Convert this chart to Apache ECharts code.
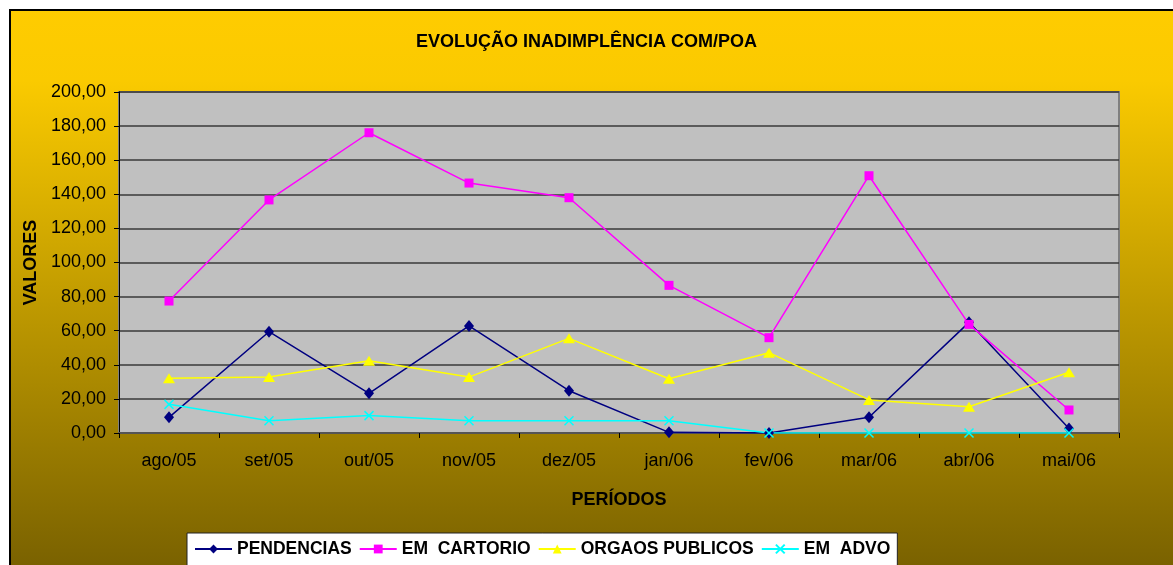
<!DOCTYPE html>
<html>
<head>
<meta charset="utf-8">
<title>EVOLUÇÃO INADIMPLÊNCIA COM/POA</title>
<script src="https://cdn.jsdelivr.net/npm/echarts@6/dist/echarts.min.js"></script>
<style>
  html, body { margin: 0; padding: 0; background: #fff; }
  #chart { width: 1173px; height: 565px; }
</style>
</head>
<body>
<div id="chart"></div>
<script>
var periodos = ['ago/05', 'set/05', 'out/05', 'nov/05', 'dez/05', 'jan/06', 'fev/06', 'mar/06', 'abr/06', 'mai/06'];
var pendencias = [9.2, 59.4, 23.3, 62.8, 24.8, 0.4, 0, 9.2, 64.9, 2.7];
var emCartorio = [77.4, 136.7, 176.1, 146.6, 138.0, 86.6, 55.9, 150.9, 63.7, 13.5];
var orgaosPublicos = [32.1, 32.8, 42.4, 32.8, 55.5, 31.8, 47.1, 19.4, 15.4, 35.6];
var emAdvo = [16.8, 7.2, 10.2, 7.2, 7.2, 7.2, 0, 0, 0, 0];

(function(){
  var font = "'Liberation Sans', Arial, sans-serif";
  var chart = echarts.init(document.getElementById('chart'), null, {renderer: 'canvas'});

  function serie(name, data, color, symbol, size, extra) {
    var s = {
      name: name, type: 'line', data: data,
      symbol: symbol, symbolSize: size, showAllSymbol: true,
      lineStyle: {color: color, width: 1.5},
      itemStyle: {color: color},
      emphasis: {disabled: true}
    };
    if (extra) s.itemStyle = extra;
    return s;
  }

  chart.setOption({
    animation: false,
    textStyle: {fontFamily: font},
    graphic: [{
      type: 'rect', z: -100, silent: true,
      shape: {x: 10, y: 10, width: 1200, height: 600},
      style: {
        fill: new echarts.graphic.LinearGradient(0, 0, 0, 1, [
          {offset: 0, color: '#FFCC00'},
          {offset: 0.12, color: '#FACA00'},
          {offset: 1, color: '#6E5800'}
        ]),
        stroke: '#000', lineWidth: 2
      }
    }],
    title: {
      text: 'EVOLUÇÃO INADIMPLÊNCIA COM/POA',
      left: 'center', top: 28,
      textStyle: {fontFamily: font, fontSize: 18, fontWeight: 'bold', color: '#000'}
    },
    legend: {
      left: 187, top: 533,
      itemWidth: 37, itemHeight: 11, itemGap: 7,
      padding: [7, 7, 12, 7],
      backgroundColor: '#fff', borderColor: '#222', borderWidth: 1,
      textStyle: {fontFamily: font, fontSize: 17.5, fontWeight: 'bold', color: '#000'},
      data: ['PENDENCIAS', 'EM  CARTORIO', 'ORGAOS PUBLICOS', 'EM  ADVO']
    },
    grid: {
      left: 119, top: 92, right: 54, bottom: 132,
      show: true, backgroundColor: '#C0C0C0', borderColor: '#808080', borderWidth: 2
    },
    xAxis: {
      type: 'category', data: periodos, boundaryGap: true,
      name: 'PERÍODOS', nameLocation: 'middle', nameGap: 58,
      nameTextStyle: {fontFamily: font, fontSize: 18, fontWeight: 'bold', color: '#000'},
      axisLine: {lineStyle: {color: '#555', width: 2}},
      axisTick: {show: true, length: 5, lineStyle: {color: '#000'}},
      axisLabel: {fontFamily: font, fontSize: 18, color: '#000', margin: 19, interval: 0},
      splitLine: {show: false}
    },
    yAxis: {
      type: 'value', min: 0, max: 200, interval: 20,
      name: 'VALORES', nameLocation: 'middle', nameGap: 76,
      nameTextStyle: {fontFamily: font, fontSize: 18, fontWeight: 'bold', color: '#000'},
      axisLine: {show: true, lineStyle: {color: '#000', width: 1}},
      axisTick: {show: true, length: 5, lineStyle: {color: '#000'}},
      axisLabel: {
        fontFamily: font, fontSize: 18, color: '#000', margin: 13,
        formatter: function (v) { return v.toFixed(2).replace('.', ','); }
      },
      splitLine: {lineStyle: {color: '#3a3a3a', width: 1.5}}
    },
    series: [
      serie('PENDENCIAS', pendencias, '#000080', 'diamond', [10, 12]),
      serie('EM  CARTORIO', emCartorio, '#FF00FF', 'rect', 9),
      serie('ORGAOS PUBLICOS', orgaosPublicos, '#FFFF00', 'triangle', [12, 10]),
      serie('EM  ADVO', emAdvo, '#00FFFF', 'path://M0,0L10,10M10,0L0,10', 9,
        {color: 'none', borderColor: '#00FFFF', borderWidth: 1.5})
    ]
  });
  window.addEventListener('resize', function(){ chart.resize(); });
})();
</script>
</body>
</html>
